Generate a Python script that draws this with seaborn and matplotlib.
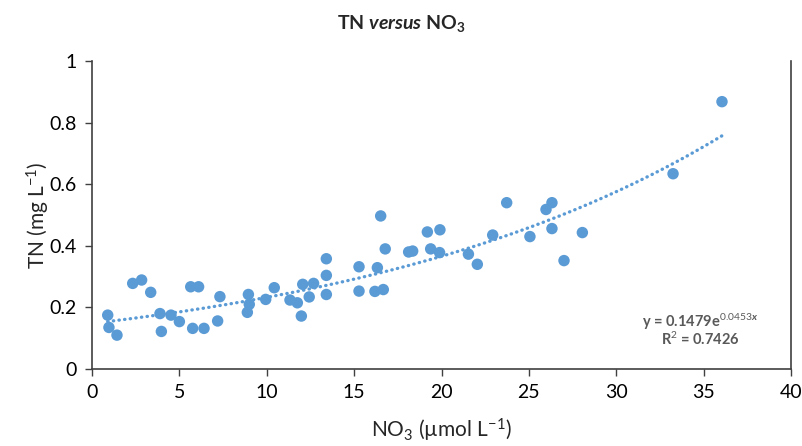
import numpy as np
import pandas as pd
import matplotlib
matplotlib.use("Agg")
import matplotlib.pyplot as plt
import seaborn as sns

# NO3 (umol/L) and TN (mg/L)
no3 = [0.90, 0.97, 1.43, 2.33, 2.84, 3.36, 3.89, 3.97, 4.52, 5.00, 5.65, 6.10, 5.76, 6.41,
       7.32, 7.19, 8.95, 9.00, 8.89, 9.94, 10.43, 11.33, 11.75, 12.06, 11.98, 12.43, 12.68,
       13.41, 13.41, 13.41, 15.28, 15.28, 16.19, 16.67, 16.33, 16.52, 16.78, 18.12, 18.35,
       19.19, 19.91, 19.38, 19.89, 21.54, 22.05, 22.93, 23.73, 25.06, 25.98, 26.32, 26.32,
       27.01, 28.06, 33.25, 36.05]
tn = [0.175, 0.135, 0.110, 0.278, 0.289, 0.249, 0.180, 0.122, 0.175, 0.154, 0.267, 0.267, 0.132, 0.132,
      0.235, 0.156, 0.242, 0.210, 0.184, 0.226, 0.264, 0.224, 0.215, 0.275, 0.172, 0.234, 0.278,
      0.358, 0.304, 0.242, 0.332, 0.253, 0.252, 0.258, 0.329, 0.497, 0.390, 0.380, 0.383,
      0.445, 0.452, 0.390, 0.378, 0.373, 0.340, 0.435, 0.540, 0.430, 0.518, 0.540, 0.456,
      0.352, 0.443, 0.634, 0.868]

# exponential trendline y = a * exp(b x), as printed on the chart
fit_a = 0.1479
fit_b = 0.0453
fit_r2 = 0.7426

blue = "#5B9BD5"

sns.set_style("white")
plt.rcParams["font.family"] = ["Lato", "DejaVu Sans"]
plt.rcParams["mathtext.fontset"] = "custom"
plt.rcParams["mathtext.rm"] = "Lato"
plt.rcParams["mathtext.it"] = "Lato:italic:bold"
plt.rcParams["mathtext.bf"] = "Lato:bold"

df = pd.DataFrame({"NO3": no3, "TN": tn})
xs = np.linspace(min(no3), max(no3), 200)
trend = pd.DataFrame({"NO3": xs, "TN": fit_a * np.exp(fit_b * xs)})

fig = plt.figure(figsize=(8.02, 4.46), dpi=100)
ax = fig.add_axes([0.1147, 0.1726, 0.8716, 0.6906])

sns.lineplot(data=trend, x="NO3", y="TN", ax=ax, color=blue, linewidth=2.4,
             linestyle=(0, (0.1, 1.6)))
ax.lines[-1].set_dash_capstyle("round")
sns.scatterplot(data=df, x="NO3", y="TN", ax=ax, color=blue, s=68, edgecolor="none", zorder=3)

ax.set_xlim(0, 40)
ax.set_ylim(0, 1)
ax.set_xticks(range(0, 41, 5))
ax.set_yticks([0, 0.2, 0.4, 0.6, 0.8, 1])
ax.set_yticklabels(["0", "0.2", "0.4", "0.6", "0.8", "1"])
ax.tick_params(axis="both", direction="out", length=5, width=1, color="#404040",
               labelsize=14, labelcolor="black", left=True, bottom=True, pad=6)

for side in ["left", "bottom", "right"]:
    ax.spines[side].set_color("#404040")
    ax.spines[side].set_linewidth(1.2)
ax.spines["top"].set_visible(False)

ax.set_xlabel("NO$_3$ (\u00b5mol L$^{-1}$)", fontsize=15, labelpad=11)
ax.set_ylabel("TN (mg L$^{-1}$)", fontsize=15, labelpad=-2)

fig.text(0.5, 0.948, r"TN $\mathit{versus}$ NO$_\mathbf{3}$", ha="center", va="center",
         fontsize=14, fontweight="bold")

ax.text(34.8, 0.153, f"y = {fit_a}e$^{{{fit_b}x}}$", ha="center", va="center",
        fontsize=10.5, color="#595959", fontweight="bold")
ax.text(34.8, 0.097, f"R$^2$ = {fit_r2}", ha="center", va="center",
        fontsize=10.5, color="#595959", fontweight="bold")

fig.savefig("out.png", dpi=100)
